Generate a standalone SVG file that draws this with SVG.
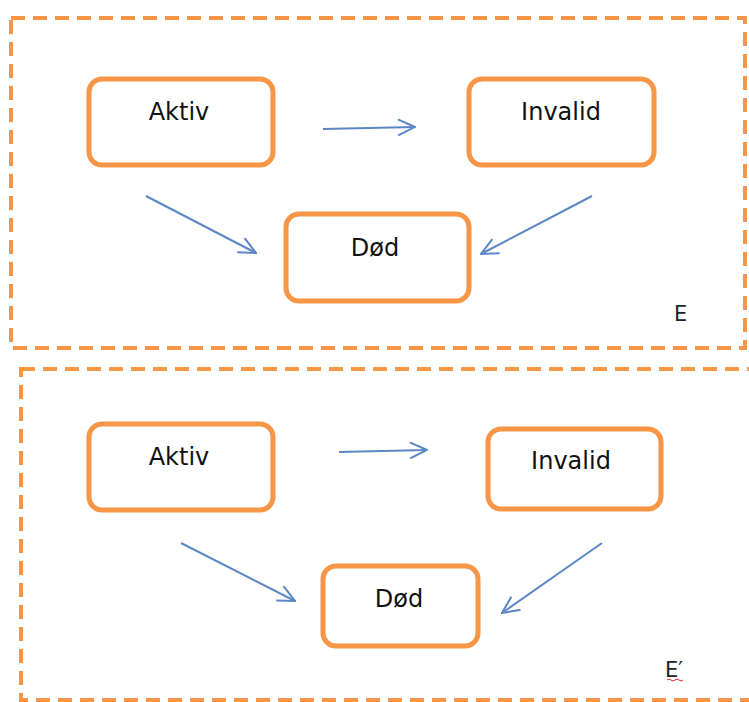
<svg xmlns="http://www.w3.org/2000/svg" width="749" height="702" viewBox="0 0 749 702">
<style>
.frame{fill:none;stroke:#F79646;stroke-width:4;stroke-dasharray:14 8}
.node{fill:#fff;stroke:#F79646;stroke-width:5}
.lbl{font-family:"DejaVu Sans",Verdana,sans-serif;font-size:24px;fill:#111;text-anchor:middle}
.tag{font-family:"DejaVu Sans",Verdana,sans-serif;font-size:21px;fill:#222}
.edge{fill:none;stroke:#5B87C5;stroke-width:2}
</style>
<defs>
<marker id="ah" viewBox="0 0 20 18" refX="19" refY="9" markerWidth="20" markerHeight="18" markerUnits="userSpaceOnUse" orient="auto">
<path d="M2,1 L19,9 L2,17" fill="none" stroke="#5B87C5" stroke-width="2"/>
</marker>
</defs>
<rect width="749" height="702" fill="#fff"/>
<rect class="frame" x="11" y="18" width="734" height="330"/>
<rect class="frame" x="21" y="369" width="740" height="331"/>
<g id="top-aktiv"><rect class="node" x="89" y="79" width="184" height="86" rx="13"/><text class="lbl" x="179" y="120">Aktiv</text></g>
<g id="top-invalid"><rect class="node" x="469" y="79" width="185" height="86" rx="13"/><text class="lbl" x="561" y="120">Invalid</text></g>
<g id="top-dod"><rect class="node" x="286" y="214" width="183" height="87" rx="13"/><text class="lbl" x="375" y="256">Død</text></g>
<text class="tag" x="674" y="321">E</text>
<g id="bot-aktiv"><rect class="node" x="89" y="424" width="184" height="86" rx="13"/><text class="lbl" x="179" y="465">Aktiv</text></g>
<g id="bot-invalid"><rect class="node" x="488" y="429" width="173" height="80" rx="13"/><text class="lbl" x="571" y="469">Invalid</text></g>
<g id="bot-dod"><rect class="node" x="323" y="566" width="155" height="80" rx="13"/><text class="lbl" x="399" y="607">Død</text></g>
<text class="tag" x="665" y="677">E′</text>
<path d="M667,680 q2,-2 4,0 t4,0 t4,0 t4,0" fill="none" stroke="#e02020" stroke-width="1"/>
<g id="connectors">
<line class="edge" x1="323" y1="129" x2="415" y2="127" marker-end="url(#ah)"/>
<line class="edge" x1="146" y1="196" x2="256" y2="253" marker-end="url(#ah)"/>
<line class="edge" x1="592" y1="196" x2="481" y2="254" marker-end="url(#ah)"/>
<line class="edge" x1="339" y1="452" x2="427" y2="450" marker-end="url(#ah)"/>
<line class="edge" x1="181" y1="543" x2="295" y2="601" marker-end="url(#ah)"/>
<line class="edge" x1="602" y1="543" x2="502" y2="613" marker-end="url(#ah)"/>
</g>
</svg>
